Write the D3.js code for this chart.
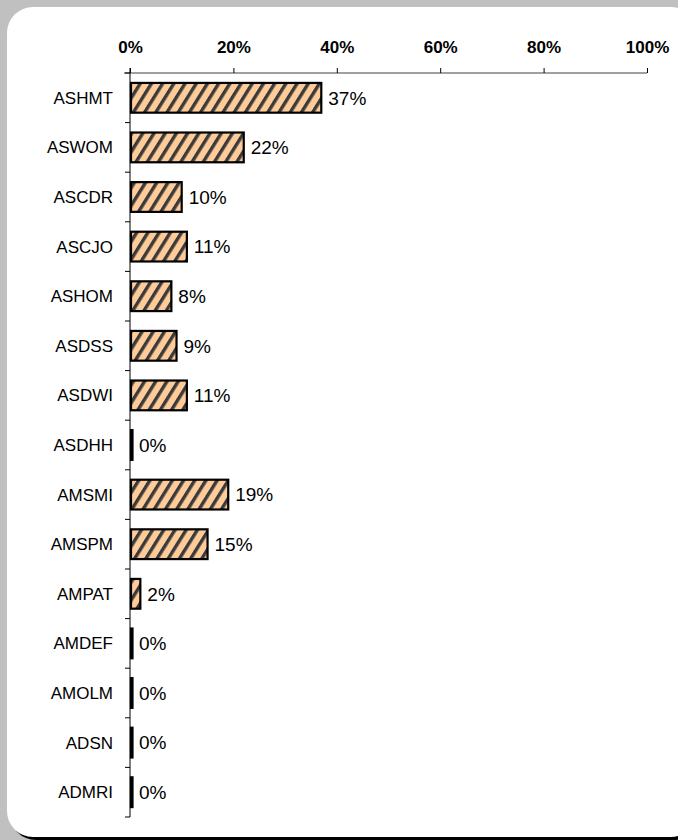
<!DOCTYPE html>
<html>
<head>
<meta charset="utf-8">
<script src="https://cdn.jsdelivr.net/npm/d3@7"></script>
<style>
  html, body { margin: 0; padding: 0; background: #c0c0c0; }
  svg { display: block; }
</style>
</head>
<body>
<div id="chart"></div>
<script>
// data
const categories = ["ASHMT", "ASWOM", "ASCDR", "ASCJO", "ASHOM", "ASDSS", "ASDWI", "ASDHH",
                    "AMSMI", "AMSPM", "AMPAT", "AMDEF", "AMOLM", "ADSN", "ADMRI"];
const values = [37, 22, 10, 11, 8, 9, 11, 0, 19, 15, 2, 0, 0, 0, 0];
const xTicks = [0, 20, 40, 60, 80, 100];

const W = 678, H = 840;
const margin = { top: 73, left: 130, right: 31, bottom: 23 };
const FONT = "Arial, 'Liberation Sans', sans-serif";

const svg = d3.select("#chart").append("svg")
    .attr("width", W)
    .attr("height", H);

// panel with shadow
svg.append("rect")
    .attr("x", 10).attr("y", 10)
    .attr("width", 690).attr("height", 830)
    .attr("rx", 26)
    .style("fill", "#000");
svg.append("rect")
    .attr("x", 7).attr("y", 7)
    .attr("width", 690).attr("height", 830)
    .attr("rx", 26)
    .style("fill", "#fff");

// hatch pattern, steep diagonal stripes
const defs = svg.append("defs");
const pat = defs.append("pattern")
    .attr("id", "hatch")
    .attr("patternUnits", "userSpaceOnUse")
    .attr("width", 9.5).attr("height", 9.5)
    .attr("patternTransform", "rotate(32)");
pat.append("rect").attr("width", 9.5).attr("height", 9.5).style("fill", "#ffcc99");
pat.append("rect").attr("x", 0).attr("width", 3.4).attr("height", 9.5).style("fill", "#3a3a3a");

const x = d3.scaleLinear()
    .domain([0, 100])
    .range([margin.left, W - margin.right]);

const y = d3.scaleBand()
    .domain(categories)
    .range([margin.top, H - margin.bottom])
    .paddingInner(0.4)
    .paddingOuter(0.2);

// x axis on top
const xAxis = svg.append("g")
    .attr("transform", "translate(0," + margin.top + ")")
    .call(d3.axisTop(x).tickValues(xTicks).tickSize(5).tickFormat(d => d + "%"));
xAxis.select(".domain").attr("d", "M124,0H" + x(100)).style("stroke", "#808080").style("stroke-width", 1.5);
xAxis.selectAll(".tick line").style("stroke", "#000");
xAxis.selectAll(".tick text")
    .attr("y", -20)
    .style("font-family", FONT)
    .style("font-weight", "bold")
    .style("font-size", "17px")
    .style("fill", "#000");

// y axis: line with ticks between the categories
const yg = svg.append("g");
yg.append("line")
    .attr("x1", x(0)).attr("x2", x(0))
    .attr("y1", margin.top - 5).attr("y2", H - margin.bottom)
    .style("stroke", "#000").style("stroke-width", 1);
const step = y.step();
yg.selectAll(".ytick")
    .data(d3.range(categories.length + 1))
    .enter().append("line")
    .attr("x1", x(0) - 5).attr("x2", x(0))
    .attr("y1", i => margin.top + i * step)
    .attr("y2", i => margin.top + i * step)
    .style("stroke", "#000");

yg.selectAll(".ylabel")
    .data(categories)
    .enter().append("text")
    .attr("x", x(0) - 17)
    .attr("y", d => y(d) + y.bandwidth() / 2)
    .attr("dy", "0.35em")
    .attr("text-anchor", "end")
    .style("font-family", FONT)
    .style("font-size", "17px")
    .text(d => d);

// bars (zero values still show as a thin black bar)
const rows = categories.map((c, i) => ({ cat: c, val: values[i] }));
svg.selectAll(".bar")
    .data(rows)
    .enter().append("rect")
    .attr("x", x(0) + 1)
    .attr("y", d => y(d.cat))
    .attr("width", d => Math.max(1.5, x(d.val) - x(0) - 1))
    .attr("height", y.bandwidth())
    .style("fill", "url(#hatch)")
    .style("stroke", "#000")
    .style("stroke-width", 2.2);

svg.selectAll(".vlabel")
    .data(rows)
    .enter().append("text")
    .attr("x", d => Math.max(x(d.val), x(0) + 2) + 7)
    .attr("y", d => y(d.cat) + y.bandwidth() / 2)
    .attr("dy", "0.36em")
    .style("font-family", FONT)
    .style("font-size", "19px")
    .text(d => d.val + "%");
</script>
</body>
</html>
